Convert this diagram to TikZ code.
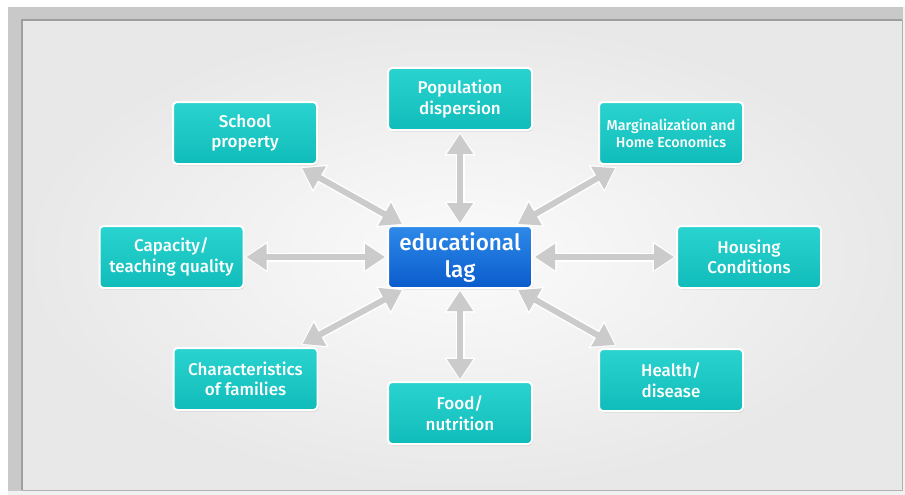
\documentclass[tikz,border=0pt]{standalone}
\usepackage{fontspec}
\setmainfont{Fira Sans}[UprightFont=* Medium]
\usetikzlibrary{arrows.meta,shadows}
\definecolor{tealtop}{HTML}{2AD3CF}
\definecolor{tealbot}{HTML}{10BCBA}
\definecolor{bluetop}{HTML}{2E8AEA}
\definecolor{bluebot}{HTML}{0A5BCB}
\definecolor{arrowgray}{HTML}{CBCBCB}
\definecolor{bandgray}{HTML}{C9C9C9}
\definecolor{linegray}{HTML}{9E9E9E}
\definecolor{bgouter}{HTML}{E8E8E8}
\definecolor{bginner}{HTML}{FBFBFB}
\tikzset{
  tbox/.style={rectangle, rounded corners=4pt, minimum width=144pt, minimum height=62pt,
    draw=white, line width=2pt, top color=tealtop, bottom color=tealbot,
    text=white, align=center, font=\fontsize{17}{20.5}\selectfont, inner sep=2pt,
    drop shadow={shadow xshift=1pt, shadow yshift=-1.5pt, opacity=0.25}},
  lagbox/.style={tbox, top color=bluetop, bottom color=bluebot,
    font=\fontsize{22.5}{27}\selectfont},
  arrw/.style={draw=white, line width=9pt, shorten <=-1.5pt, shorten >=-1.5pt,
    {Triangle[width=30pt,length=23pt]}-{Triangle[width=30pt,length=23pt]}},
  arrg/.style={draw=arrowgray, line width=6pt,
    {Triangle[width=25pt,length=20pt]}-{Triangle[width=25pt,length=20pt]}}
}
\newcommand{\dblarr}[2]{%
  \draw[arrw] #1 -- #2;
  \draw[arrg] #1 -- #2;}
\begin{document}
\begin{tikzpicture}[x=1pt,y=-1pt]
\useasboundingbox (0,0) rectangle (905,495);
\fill[white] (0,0) rectangle (905,495);
\fill[bgouter!60!white] (8,7) rectangle (905,495);
\fill[bandgray] (8,7) rectangle (903,491);
\shade[inner color=bginner, outer color=bgouter] (22,20) rectangle (902,490);
\draw[linegray, line width=1.2pt] (22,490) -- (22,20) -- (902,20);
\draw[linegray!80, line width=1pt] (22,490) -- (902,490) -- (902,20);

\node[tbox] (school) at (245,133) {School\\property};
\node[tbox] (pop) at (460,99) {Population\\dispersion};
\node[tbox, font=\fontsize{14.3}{17}\selectfont] (marg) at (671,133) {Marginalization and\\Home Economics};
\node[tbox] (cap) at (171.5,257) {Capacity/\\teaching quality};
\node[lagbox] (lag) at (460,257) {educational\\lag};
\node[tbox] (hous) at (749,257) {Housing\\Conditions};
\node[tbox] (char) at (245.5,379) {Characteristics\\of families};
\node[tbox] (food) at (460,413) {Food/\\nutrition};
\node[tbox] (health) at (671,380) {Health/\\disease};

\dblarr{([yshift=-3pt]pop.south)}{([yshift=2pt]lag.north)}
\dblarr{([yshift=-2pt]lag.south)}{([yshift=2pt]food.north)}
\dblarr{([xshift=2pt]cap.east)}{([xshift=-2pt]lag.west)}
\dblarr{([xshift=2pt]lag.east)}{([xshift=-2pt]hous.west)}
\dblarr{([xshift=-16pt,yshift=-3pt]school.south east)}{([xshift=15pt,yshift=1pt]lag.north west)}
\dblarr{([xshift=17pt,yshift=-3pt]marg.south west)}{([xshift=-15pt,yshift=1pt]lag.north east)}
\dblarr{([xshift=-16pt,yshift=3pt]char.north east)}{([xshift=15pt,yshift=-1pt]lag.south west)}
\dblarr{([xshift=17pt,yshift=3pt]health.north west)}{([xshift=-15pt,yshift=-1pt]lag.south east)}
\end{tikzpicture}
\end{document}
